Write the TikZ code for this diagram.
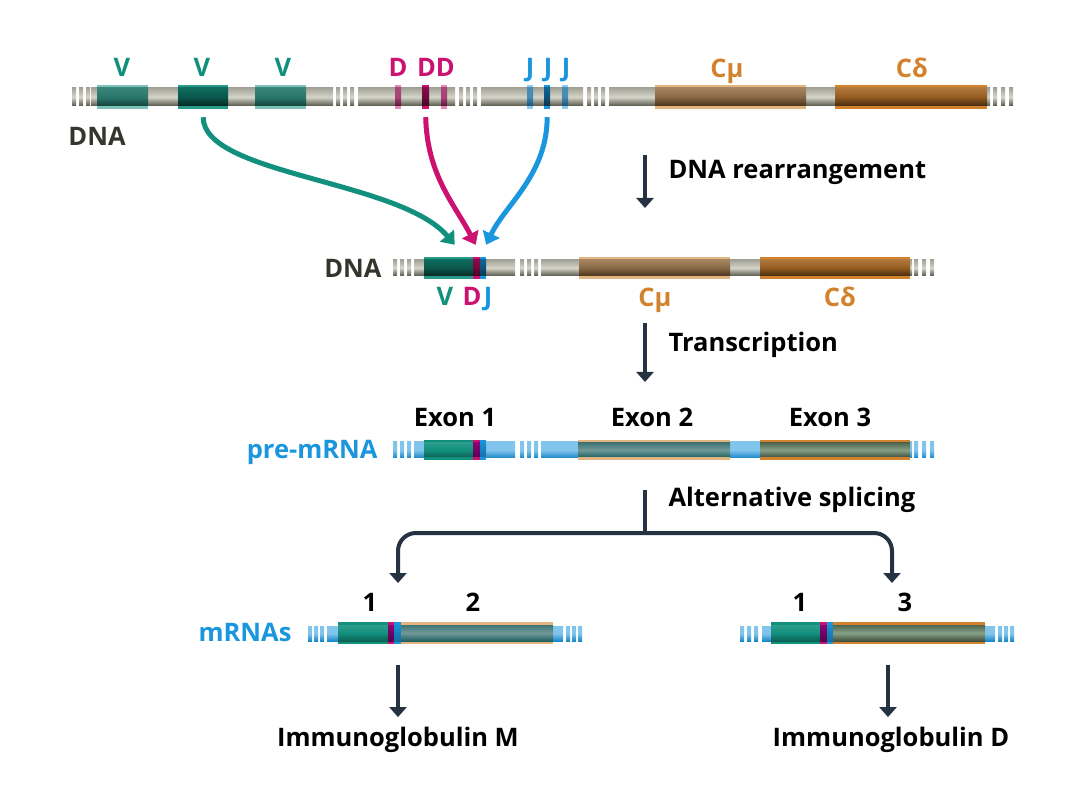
\documentclass[tikz,border=0pt]{standalone}
\usepackage{fontspec}
\setmainfont{Open Sans}
\usetikzlibrary{arrows.meta}

\definecolor{tealc}{HTML}{12907E}
\definecolor{magc}{HTML}{CC1170}
\definecolor{bluec}{HTML}{1A96DE}
\definecolor{orc}{HTML}{D2822C}
\definecolor{dnac}{HTML}{36352D}
\definecolor{arrc}{HTML}{243241}
\definecolor{bartop}{HTML}{A4A498}
\definecolor{barmid}{HTML}{D4D4C8}
\definecolor{barbot}{HTML}{55554A}

\begin{document}
\begin{tikzpicture}[x=1pt, y=-1pt,
        every node/.style={font=\bfseries\fontsize{25.5}{30}\selectfont},
        lbl/.style={anchor=base},
        steplbl/.style={anchor=base west, text=black},
        % strands
        graybar/.style={top color=bartop, bottom color=barbot, middle color=barmid},
        bluebar/.style={top color=bluec!55!white, bottom color=bluec!90!black, middle color=bluec!55!white},
        % segments: outer colour, inner shading
        seg/.style 2 args={anchor=west, inner sep=0pt, minimum height=24pt, fill=#1,
            path picture={\shade[#2] ([yshift=-3pt]path picture bounding box.north west) rectangle ([yshift=3pt]path picture bounding box.south east);}},
        vin/.style={top color=tealc!60!gray, bottom color=tealc!35!black, middle color=tealc!70!gray!85!black},
        vsel/.style={top color=tealc!80!black, bottom color=tealc!15!black, middle color=tealc!60!black},
        din/.style={top color=magc!50!gray, bottom color=magc!30!black, middle color=magc!55!gray},
        dsel/.style={top color=magc!70!black, bottom color=magc!20!black, middle color=magc!55!black},
        jin/.style={top color=bluec!50!gray, bottom color=bluec!40!black, middle color=bluec!60!gray},
        jsel/.style={top color=bluec!70!black, bottom color=bluec!25!black, middle color=bluec!55!black},
        cmin/.style={top color=orc!45!gray!90!white, bottom color=orc!25!black, middle color=orc!50!gray!80!black},
        cdin/.style={top color=orc!70!gray, bottom color=orc!20!black, middle color=orc!70!black},
        rv/.style={top color=tealc!85!white, bottom color=tealc!55!black, middle color=tealc},
        rd/.style={top color=violet!70!magc, bottom color=violet!60!black},
        rj/.style={top color=bluec, bottom color=bluec!70!black},
        r2/.style={top color=teal!55!gray!80!black, bottom color=teal!60!black, middle color=teal!40!gray!80!white},
        r3/.style={top color=green!15!gray!55!black, bottom color=green!15!gray!35!black, middle color=green!12!gray!85!white},
        darr/.style={color=arrc, line width=4pt, -{Triangle[width=17pt,length=10pt]}},
        carr/.style={line width=5pt, -{Triangle[width=18pt,length=12pt]}}
    ]
    \useasboundingbox (0,0) rectangle (1080,810);

    % Germline DNA
    \foreach \x in {72,79,86,336,343,350,459,466,473,587,594,601,993,1001,1009}
        \shade[graybar] (\x,88) rectangle +(4,18);
    \shade[graybar] (91,88) rectangle (333,106);
    \shade[graybar] (358,88) rectangle (455,106);
    \shade[graybar] (481,88) rectangle (583,106);
    \shade[graybar] (609,88) rectangle (990,106);
    \node[seg={tealc!55!white}{vin}, minimum width=51pt] (v1) at (97,97) {};
    \node[seg={tealc!90!white}{vsel}, minimum width=50pt] (v2) at (178,97) {};
    \node[seg={tealc!55!white}{vin}, minimum width=51pt] (v3) at (255,97) {};
    \node[seg={magc!50!white}{din}, minimum width=6pt] (d1) at (395,97) {};
    \node[seg={magc}{dsel}, minimum width=7pt] (d2) at (422,97) {};
    \node[seg={magc!50!white}{din}, minimum width=6pt] (d3) at (441,97) {};
    \node[seg={bluec!50!white}{jin}, minimum width=6pt] (j1) at (527,97) {};
    \node[seg={bluec}{jsel}, minimum width=6pt] (j2) at (544,97) {};
    \node[seg={bluec!50!white}{jin}, minimum width=6pt] (j3) at (562,97) {};
    \node[seg={orc!60!white}{cmin}, minimum width=151pt] (cm1) at (655,97) {};
    \node[seg={orc}{cdin}, minimum width=152pt] (cd1) at (835,97) {};

    \node[lbl, text=tealc] (lv1) at (122,77) {V};
    \node[lbl, text=tealc] (lv2) at (202,77) {V};
    \node[lbl, text=tealc] (lv3) at (283,77) {V};
    \node[lbl, text=magc] (ld1) at (398,77) {D};
    \node[lbl, text=magc] (ld2) at (436,77) {DD};
    \node[lbl, text=bluec] (lj1) at (530,77) {J};
    \node[lbl, text=bluec] (lj2) at (548,77) {J};
    \node[lbl, text=bluec] (lj3) at (566,77) {J};
    \node[lbl, text=orc] (lcm1) at (727,78) {Cμ};
    \node[lbl, text=orc] (lcd1) at (912,78) {Cδ};
    \node[lbl, text=dnac] (dna1) at (97,146) {DNA};

    % Rearranged DNA
    \foreach \x in {393,400,407,520,527,534,914,922,930}
        \shade[graybar] (\x,260) rectangle +(4,16);
    \shade[graybar] (414,260) rectangle (515,276);
    \shade[graybar] (541,260) rectangle (912,276);
    \node[seg={tealc!90!white}{vsel}, minimum width=49pt, minimum height=22pt] (v0) at (424,268) {};
    \node[seg={magc}{dsel}, minimum width=7pt, minimum height=22pt] (d0) at (473,268) {};
    \node[seg={bluec}{jsel}, minimum width=6pt, minimum height=22pt] (j0) at (480,268) {};
    \node[seg={orc!60!white}{cmin}, minimum width=151pt, minimum height=22pt] (cm2) at (579,268) {};
    \node[seg={orc}{cdin}, minimum width=150pt, minimum height=22pt] (cd2) at (760,268) {};

    \node[lbl, anchor=base east, text=dnac] (dna2) at (385,278) {DNA};
    \node[lbl, text=tealc] (lv0) at (445,306) {V};
    \node[lbl, text=magc] (ld0) at (472,306) {D};
    \node[lbl, text=bluec] (lj0) at (488,306) {J};
    \node[lbl, text=orc] (lcm2) at (655,307) {Cμ};
    \node[lbl, text=orc] (lcd2) at (840,307) {Cδ};

    % Recombination arrows
    \draw[carr, color=tealc] ([yshift=-8pt]v2.south) .. controls (203,175) and (400,180) .. ([xshift=6pt,yshift=12pt]v0.north);
    \draw[carr, color=magc] ([yshift=-8pt]d2.south) .. controls (427,175) and (455,205) .. ([xshift=-1pt,yshift=12pt]d0.north);
    \draw[carr, color=bluec] ([yshift=-8pt]j2.south) .. controls (547,175) and (505,205) .. ([xshift=3pt,yshift=12pt]j0.north);

    % pre-mRNA
    \foreach \x in {393,400,407,520,527,534,914,922,930}
        \shade[bluebar] (\x,442) rectangle +(4,16);
    \shade[bluebar] (414,442) rectangle (515,458);
    \shade[bluebar] (541,442) rectangle (912,458);
    \node[seg={tealc}{rv}, minimum width=49pt, minimum height=20pt] (e1) at (424,450) {};
    \node[seg={magc}{rd}, minimum width=7pt, minimum height=20pt] (e1d) at (473,450) {};
    \node[seg={bluec}{rj}, minimum width=6pt, minimum height=20pt] (e1j) at (480,450) {};
    \node[seg={orc!60!white}{r2}, minimum width=152pt, minimum height=20pt] (e2) at (578,450) {};
    \node[seg={orc}{r3}, minimum width=150pt, minimum height=20pt] (e3) at (760,450) {};

    \node[lbl, anchor=base east, text=bluec] (pre) at (381,459) {pre-mRNA};
    \node[lbl] (le1) at (455,427) {Exon 1};
    \node[lbl] (le2) at (652,427) {Exon 2};
    \node[lbl] (le3) at (830,427) {Exon 3};

    % mRNAs
    \foreach \x in {308,314,320,566,572,578,740,747,754,998,1004,1010}
        \shade[bluebar] (\x,626) rectangle +(4,15);
    \shade[bluebar] (327,626) rectangle (563,641);
    \shade[bluebar] (762,626) rectangle (995,641);
    \node[seg={tealc}{rv}, minimum width=50pt, minimum height=22pt] (m1) at (338,633) {};
    \node[seg={magc}{rd}, minimum width=6pt, minimum height=22pt] (m1d) at (388,633) {};
    \node[seg={bluec}{rj}, minimum width=7pt, minimum height=22pt] (m1j) at (394,633) {};
    \node[seg={orc!60!white}{r2}, minimum width=152pt, minimum height=22pt] (m2) at (401,633) {};
    \node[seg={tealc}{rv}, minimum width=49pt, minimum height=22pt] (n1) at (771,633) {};
    \node[seg={magc}{rd}, minimum width=7pt, minimum height=22pt] (n1d) at (820,633) {};
    \node[seg={bluec}{rj}, minimum width=6pt, minimum height=22pt] (n1j) at (827,633) {};
    \node[seg={orc}{r3}, minimum width=152pt, minimum height=22pt] (n3) at (833,633) {};

    \node[lbl, anchor=base east, text=bluec] (mrna) at (295,641) {mRNAs};
    \node[lbl] (lm1) at (370,611) {1};
    \node[lbl] (lm2) at (473,611) {2};
    \node[lbl] (ln1) at (800,611) {1};
    \node[lbl] (ln3) at (905,611) {3};

    % Steps
    \node[steplbl] (rearr) at (665,179) {DNA rearrangement};
    \node[steplbl] (trans) at (665,352) {Transcription};
    \node[steplbl] (splice) at (665,506) {Alternative splicing};
    \node[lbl] (igm) at (398,746) {Immunoglobulin M};
    \node[lbl] (igd) at (891,746) {Immunoglobulin D};

    \coordinate (s1a) at (645,155);
    \coordinate (s1b) at (645,208);
    \coordinate (s2a) at (645,323);
    \coordinate (s2b) at (645,382);
    \coordinate (s3a) at (645,490);
    \coordinate (split) at (645,533);
    \coordinate (toM) at (398,583);
    \coordinate (toD) at (892,583);
    \coordinate (fromM) at (398,665);
    \coordinate (fromD) at (888,665);

    % Arrows
    \draw[darr] (s1a) -- (s1b);
    \draw[darr] (s2a) -- (s2b);
    \draw[color=arrc, line width=4pt] (s3a) -- (split);
    \draw[darr, rounded corners=18pt] (split) -| (toM);
    \draw[darr, rounded corners=18pt] (split) -| (toD);
    \draw[darr] (fromM) -- ([yshift=6pt]igm.north);
    \draw[darr] (fromD) -- ([xshift=-3pt,yshift=6pt]igd.north);
\end{tikzpicture}
\end{document}
